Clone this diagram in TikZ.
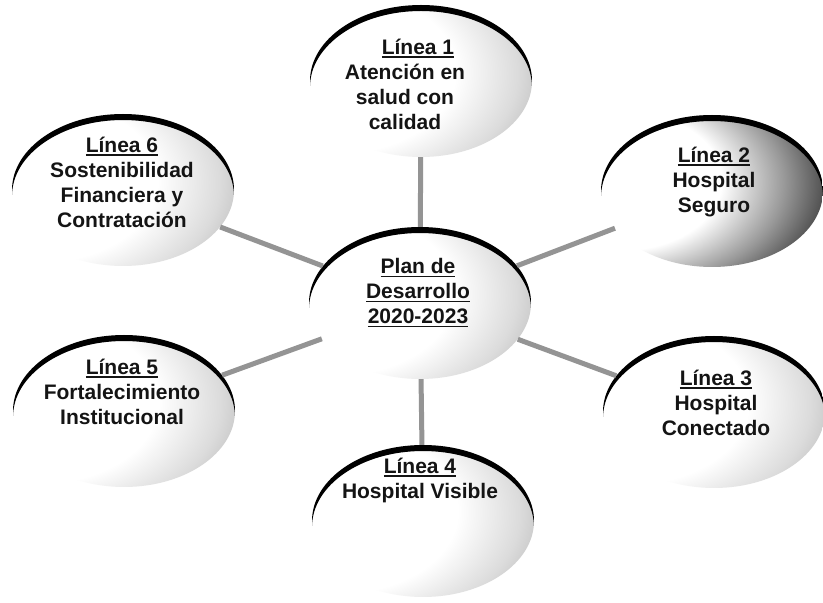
\documentclass[tikz,border=0pt]{standalone}
\usepackage{fontspec}
\setmainfont{Liberation Sans}
\usetikzlibrary{shapes.geometric}
\pgfdeclareradialshading{lightell}{\pgfpoint{-30bp}{5bp}}{color(0bp)=(white); color(27bp)=(white); color(37bp)=(black!14); color(46bp)=(black!33); color(54bp)=(black!52); color(75bp)=(black!58)}
\pgfdeclareradialshading{darkell}{\pgfpoint{-30bp}{5bp}}{color(0bp)=(white); color(23bp)=(white); color(33bp)=(black!40); color(41bp)=(black!75); color(48bp)=(black!92); color(75bp)=(black)}
\newcommand\lineaul[1]{\setbox0\hbox{#1}\rlap{\rule[-3.5pt]{\wd0}{1.8pt}}\box0}
\tikzset{
  ell/.style={ellipse, minimum width=222pt, minimum height=152pt, inner sep=0pt, shading=lightell,
    path picture={\fill[black, even odd rule]
      ([shift={(-130,-90)}]path picture bounding box.center) rectangle ([shift={(130,90)}]path picture bounding box.center)
      ([yshift=-6pt]path picture bounding box.center) ellipse [x radius=111pt, y radius=76pt];}},
  ellD/.style={ell, shading=darkell},
  conn/.style={draw=black!42, line width=5pt},
  txt/.style={font=\fontsize{21}{25}\selectfont\bfseries, align=center, inner sep=0pt, text=black!92}
}
\begin{document}
\begin{tikzpicture}[x=1pt,y=1pt]
\useasboundingbox[fill=white] (0,0) rectangle (823,603);
\node[ell]  (l1) at (421,522) {};
\node[ellD] (l2) at (712,412) {};
\node[ell]  (c)  at (420,300) {};
\node[ell]  (l3) at (714,191) {};
\node[ell]  (l4) at (423,82) {};
\node[ell]  (l5) at (124,192) {};
\node[ell]  (l6) at (123,413) {};
\draw[conn] (c) -- (l1);
\draw[conn] (c) -- (l2);
\draw[conn] (c) -- (l3);
\draw[conn] (c) -- (l4);
\draw[conn] (c) -- (l5);
\draw[conn] (c) -- (l6);
\node[txt] (t1) at (405,519) {\hspace*{26pt}\lineaul{Línea 1}\\Atención en\\salud con\\calidad};
\node[txt] (t2) at (714,421) {\lineaul{Línea 2}\\Hospital\\Seguro};
\node[txt] (tc) at (418,310) {\lineaul{Plan de}\\\lineaul{Desarrollo}\\\lineaul{2020-2023}};
\node[txt] (t3) at (716,200) {\lineaul{Línea 3}\\Hospital\\Conectado};
\node[txt] (t4) at (420,123) {\lineaul{Línea 4}\\Hospital Visible};
\node[txt] (t5) at (122,211) {\lineaul{Línea 5}\\Fortalecimiento\\Institucional};
\node[txt] (t6) at (122,421) {\lineaul{Línea 6}\\Sostenibilidad\\Financiera y\\Contratación};
\end{tikzpicture}
\end{document}
